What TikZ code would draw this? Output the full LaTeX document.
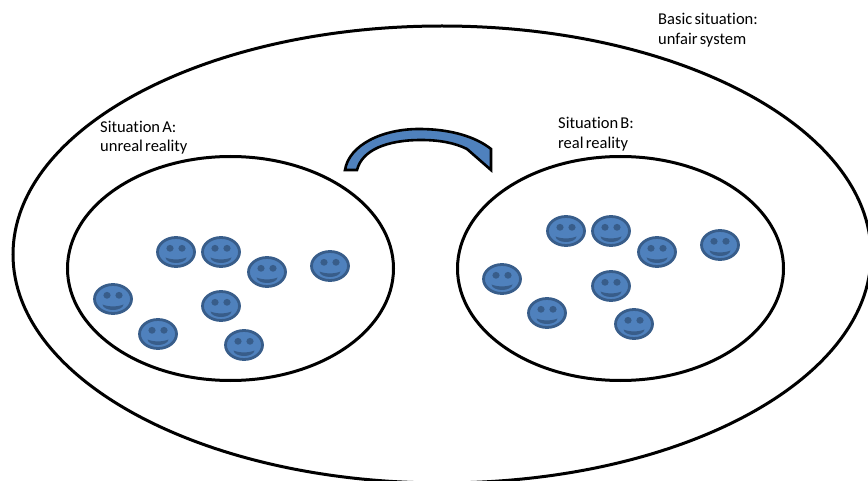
\documentclass[tikz,border=0pt]{standalone}
\usepackage{fontspec}
\setmainfont[RawFeature={-liga},WordSpace=0.6]{Carlito}
\usetikzlibrary{shapes.geometric}
\definecolor{smfill}{HTML}{4F81BD}
\definecolor{smline}{HTML}{385D8A}
\tikzset{
  region/.style={draw=black,line width=3pt,fill=none},
  lbl/.style={anchor=base west,inner sep=0pt,font=\fontsize{16.5}{19}\selectfont},
  arrowshape/.style={draw=black,line width=2.6pt,fill=smfill,line join=miter},
  smiley/.pic={
    \draw[draw=smline,line width=2.8pt,fill=smfill] (0,0) ellipse [x radius=18.5,y radius=14.5];
    \fill[smline] (-6,-3.7) ellipse [x radius=3.6,y radius=3.4];
    \fill[smline] (6,-3.7) ellipse [x radius=3.6,y radius=3.4];
    \fill[smline] (-10.5,5.5) .. controls (-5,8) and (5,8) .. (10.5,5.5)
       .. controls (10,9) and (5,11) .. (0,11) .. controls (-5,11) and (-10,9) .. (-10.5,5.5) -- cycle;
  }
}
\begin{document}
\begin{tikzpicture}[x=1pt,y=-1pt]
\useasboundingbox (0,0) rectangle (868,481);
\draw[region] (442,254.5) ellipse [x radius=429,y radius=228.5];
\draw[region] (230.5,268.5) ellipse [x radius=163,y radius=112];
\draw[region] (620.5,268.5) ellipse [x radius=163,y radius=112];
\draw[arrowshape] (345,170) .. controls (349,145) and (382,129) .. (419,129)
  .. controls (451,129) and (476,137) .. (491,149) -- (491,170) -- (467,149)
  .. controls (455,143) and (440,140) .. (421,140)
  .. controls (387,140) and (362,150) .. (357,170) -- cycle;
\foreach \p/\q in {176/252,221/252,267/272,330/266,113/299,221/306,158/334,244/345,
                   566/231,611/231,657/252,720/245,502/279,611/286,547/313,634/324}
  \pic at (\p,\q) {smiley};
\node[lbl] (basic1) at (658,25) {Basic situation:};
\node[lbl] (basic2) at (658,45) {unfair system};
\node[lbl] (a1) at (100,133) {Situation A:};
\node[lbl] (a2) at (100,152) {unreal reality};
\node[lbl] (b1) at (558,129) {Situation B:};
\node[lbl] (b2) at (558,149) {real reality};
\end{tikzpicture}
\end{document}
